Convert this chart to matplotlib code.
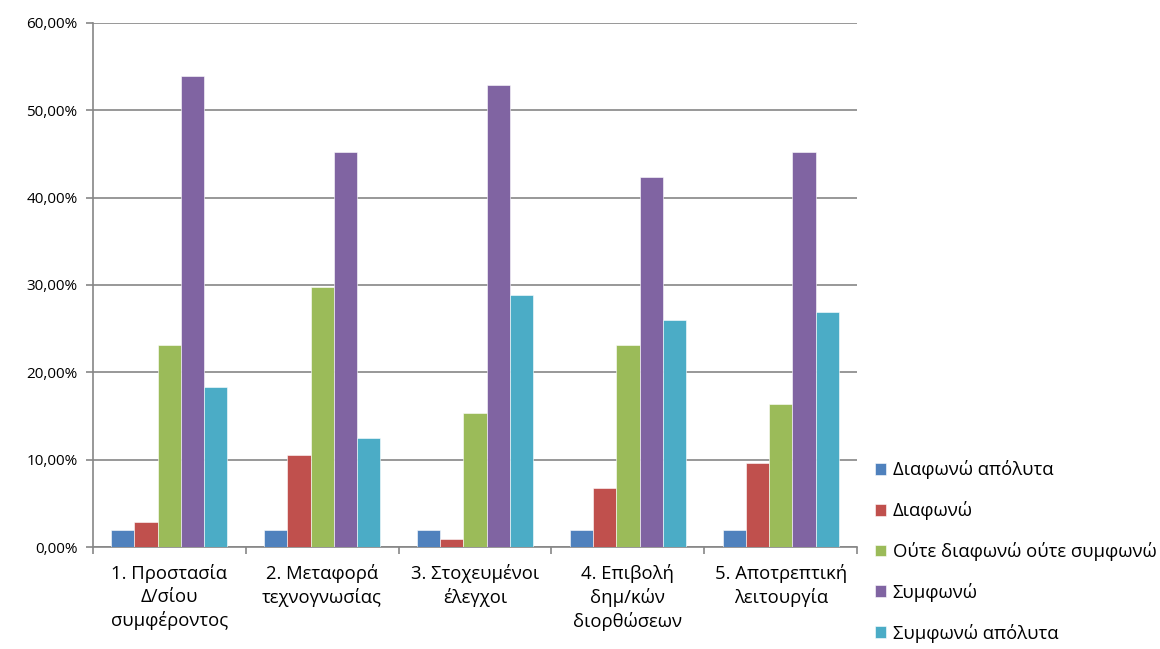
import numpy as np
import matplotlib
matplotlib.use("Agg")
import matplotlib.pyplot as plt
from matplotlib.ticker import FuncFormatter, FixedLocator

plt.rcParams['font.family'] = ['Open Sans', 'DejaVu Sans']

categories = ['1. Προστασία\nΔ/σίου\nσυμφέροντος', '2. Μεταφορά\nτεχνογνωσίας',
              '3. Στοχευμένοι\nέλεγχοι', '4. Επιβολή\nδημ/κών\nδιορθώσεων',
              '5. Αποτρεπτική\nλειτουργία']
series = ['Διαφωνώ απόλυτα', 'Διαφωνώ', 'Ούτε διαφωνώ ούτε συμφωνώ',
          'Συμφωνώ', 'Συμφωνώ απόλυτα']
diafono_apolyta = [1.92, 1.92, 1.92, 1.92, 1.92]
diafono = [2.88, 10.58, 0.96, 6.73, 9.62]
oute = [23.08, 29.81, 15.38, 23.08, 16.35]
symfono = [53.85, 45.19, 52.88, 42.31, 45.19]
symfono_apolyta = [18.27, 12.50, 28.85, 25.96, 26.92]
values = [diafono_apolyta, diafono, oute, symfono, symfono_apolyta]
colors = ['#4F81BD', '#C0504D', '#9BBB59', '#8064A2', '#4BACC6']

fig = plt.figure(figsize=(11.6, 6.49), dpi=100)
ax = fig.add_axes([0.080, 0.157, 0.659, 0.808])

x = np.arange(len(categories))
width = 0.152
for i, (name, vals, c) in enumerate(zip(series, values, colors)):
    ax.bar(x + (i - 2) * width, vals, width, color=c, label=name,
           edgecolor='white', linewidth=0.4, zorder=3)

ax.set_xlim(-0.5, 4.5)
ax.set_ylim(0, 60)
ax.set_yticks(np.arange(0, 61, 10))
ax.yaxis.set_major_formatter(FuncFormatter(lambda v, p: ('%.2f%%' % v).replace('.', ',')))
ax.grid(axis='y', color='#868686', linewidth=1.2, zorder=0)

ax.xaxis.set_major_locator(FixedLocator(np.arange(-0.5, 5, 1)))
ax.xaxis.set_minor_locator(FixedLocator(x))
ax.set_xticklabels([])
ax.set_xticklabels(categories, minor=True, linespacing=1.35, fontsize=13.3)
ax.tick_params(axis='x', which='major', length=5, color='#868686', width=1.2)
ax.tick_params(axis='x', which='minor', length=0, pad=12)
ax.tick_params(axis='y', length=5, color='#868686', width=1.2, labelsize=11, pad=6)

for s in ['top', 'right']:
    ax.spines[s].set_visible(False)
for s in ['left', 'bottom']:
    ax.spines[s].set_color('#868686')
    ax.spines[s].set_linewidth(1.2)

fig.legend(loc='upper left', bbox_to_anchor=(0.748, 0.302), frameon=False,
           fontsize=13.3, labelspacing=1.18, handlelength=0.6, handleheight=0.6,
           handletextpad=0.35, borderaxespad=0)

fig.savefig('out.png', dpi=100)
